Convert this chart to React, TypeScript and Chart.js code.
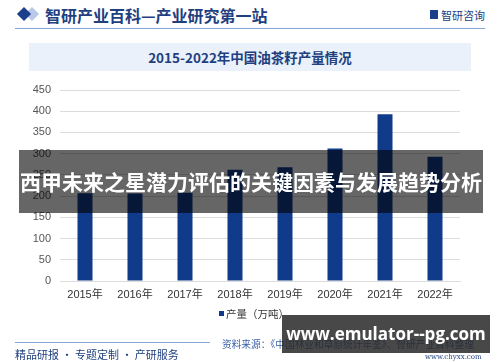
import React, { useEffect, useRef } from "react";
import { Chart, registerables } from "chart.js";

Chart.register(...registerables);

const years = ["2015年", "2016年", "2017年", "2018年", "2019年", "2020年", "2021年", "2022年"];
const production = [207, 206, 208, 262, 268, 312, 393, 293];
const yTicks = [0, 50, 100, 150, 200, 250, 300, 350, 400, 450];
const seriesName = "产量（万吨）";
const chartTitle = "2015-2022年中国油茶籽产量情况";
const headerText = "智研产业百科—产业研究第一站";
const bannerText = "西甲未来之星潜力评估的关键因素与发展趋势分析";
const sourceText = "资料来源：《中国林业和草原统计年鉴》、智研产业百科整理";
const footerLeft = "精品研报 · 专题定制 · 产研服务";
const watermark = "www.emulator--pg.com";

const BAR = "#0f3b8a";
const DARK_BLUE = "#1f3f7f";

export default function App() {
  const ref = useRef<HTMLCanvasElement>(null);
  useEffect(() => {
    if (!ref.current) return;
    const chart = new Chart(ref.current, {
      type: "bar",
      data: {
        labels: years,
        datasets: [
          {
            label: seriesName,
            data: production,
            backgroundColor: BAR,
            borderWidth: 0,
            categoryPercentage: 0.6,
            barPercentage: 0.5,
          },
        ],
      },
      options: {
        animation: false,
        responsive: false,
        devicePixelRatio: 1,
        layout: { padding: { left: 6, right: 40, top: 90, bottom: 61 } },
        plugins: { legend: { display: false }, tooltip: { enabled: false } },
        scales: {
          x: {
            grid: { display: false, drawTicks: false },
            border: { color: "#dcdcdc" },
            ticks: {
              padding: 7,
              color: "#333",
              font: { family: "'Liberation Sans', 'Noto Sans CJK SC'", size: 11 },
              maxRotation: 0,
            },
            afterFit: (s: any) => {
              s.height = 20;
            },
          },
          y: {
            min: 0,
            max: 450,
            afterBuildTicks: (s: any) => {
              s.ticks = yTicks.map((v) => ({ value: v }));
            },
            grid: { color: "#dcdcdc", drawTicks: false },
            border: { display: false },
            ticks: {
              padding: 9,
              color: "#555",
              font: { family: "'Liberation Sans'", size: 11 },
            },
            afterFit: (s: any) => {
              s.width = 54;
            },
          },
        },
      },
    });
    return () => chart.destroy();
  }, []);

  const abs = (o: React.CSSProperties): React.CSSProperties => ({ position: "absolute", ...o });

  return (
    <div style={{ position: "fixed", left: 0, top: 0, width: 500, height: 362, background: "#fff", overflow: "hidden", fontFamily: "'Noto Sans CJK SC', sans-serif" }}>
      {/* header */}
      <div style={abs({ left: 27, top: 9, width: 10, height: 10, background: "#b9c8e6", transform: "rotate(45deg)" })} />
      <div style={abs({ left: 19, top: 9, width: 10, height: 10, background: "#1c3f8c", transform: "rotate(45deg)" })} />
      <div style={abs({ left: 45, top: 3, fontSize: 16, fontWeight: 700, color: DARK_BLUE, whiteSpace: "nowrap" })}>{headerText}</div>
      <div style={abs({ left: 430, top: 10, width: 8, height: 9, background: "#1c3f8c" })} />
      <div style={abs({ left: 441, top: 7, fontSize: 11, color: DARK_BLUE, whiteSpace: "nowrap" })}>智研咨询</div>
      <div style={abs({ left: 15, top: 28, width: 470, height: 1, background: "#86a3d6" })} />
      {/* title band */}
      <div style={abs({ left: 29, top: 43, width: 442, height: 28, background: "#eaf1fb" })} />
      <div style={abs({ left: 29, top: 43, width: 442, height: 28, lineHeight: "28px", textAlign: "center", fontSize: 13.5, fontWeight: 700, color: DARK_BLUE })}>{chartTitle}</div>
      <canvas ref={ref} width={500} height={362} style={abs({ left: 0, top: 0, width: 500, height: 362 })} />
      {/* legend */}
      <div style={abs({ left: 219, top: 306, fontSize: 10.5, color: "#333", whiteSpace: "nowrap", display: "flex", alignItems: "center" })}>
        <span style={{ display: "inline-block", width: 5, height: 5, background: BAR, marginRight: 2 }} />
        {seriesName}
      </div>
      {/* footer */}
      <div style={abs({ left: 15, top: 342, width: 195, height: 1, background: "#86a3d6" })} />
      <div style={abs({ left: 15, top: 346, fontSize: 11, color: DARK_BLUE, whiteSpace: "nowrap" })}>{footerLeft}</div>
      <div style={abs({ left: 222, top: 337, fontSize: 9.7, color: "#3a5fa8", whiteSpace: "nowrap" })}>{sourceText}</div>
      <div style={abs({ left: 425, top: 353, fontSize: 7, color: DARK_BLUE, fontFamily: "'DejaVu Serif'", whiteSpace: "nowrap" })}>www.chyxx.com</div>
      {/* overlays */}
      <div style={abs({ left: 19, top: 150, width: 464, height: 63, background: "rgba(0,0,0,0.6)" })} />
      <div style={abs({ left: 19, top: 150, width: 464, height: 63, lineHeight: "63px", textAlign: "center", color: "#fff", fontSize: 21, fontWeight: 700, whiteSpace: "nowrap" })}>{bannerText}</div>
      <div style={abs({ left: 282, top: 315, width: 208, height: 38, background: "rgba(40,40,40,0.85)" })} />
      <div style={abs({ left: 282, top: 315, width: 208, height: 38, lineHeight: "38px", textAlign: "center", color: "#fff", fontSize: 17, fontWeight: 700, fontFamily: "'Open Sans', sans-serif", whiteSpace: "nowrap" })}>{watermark}</div>
    </div>
  );
}
